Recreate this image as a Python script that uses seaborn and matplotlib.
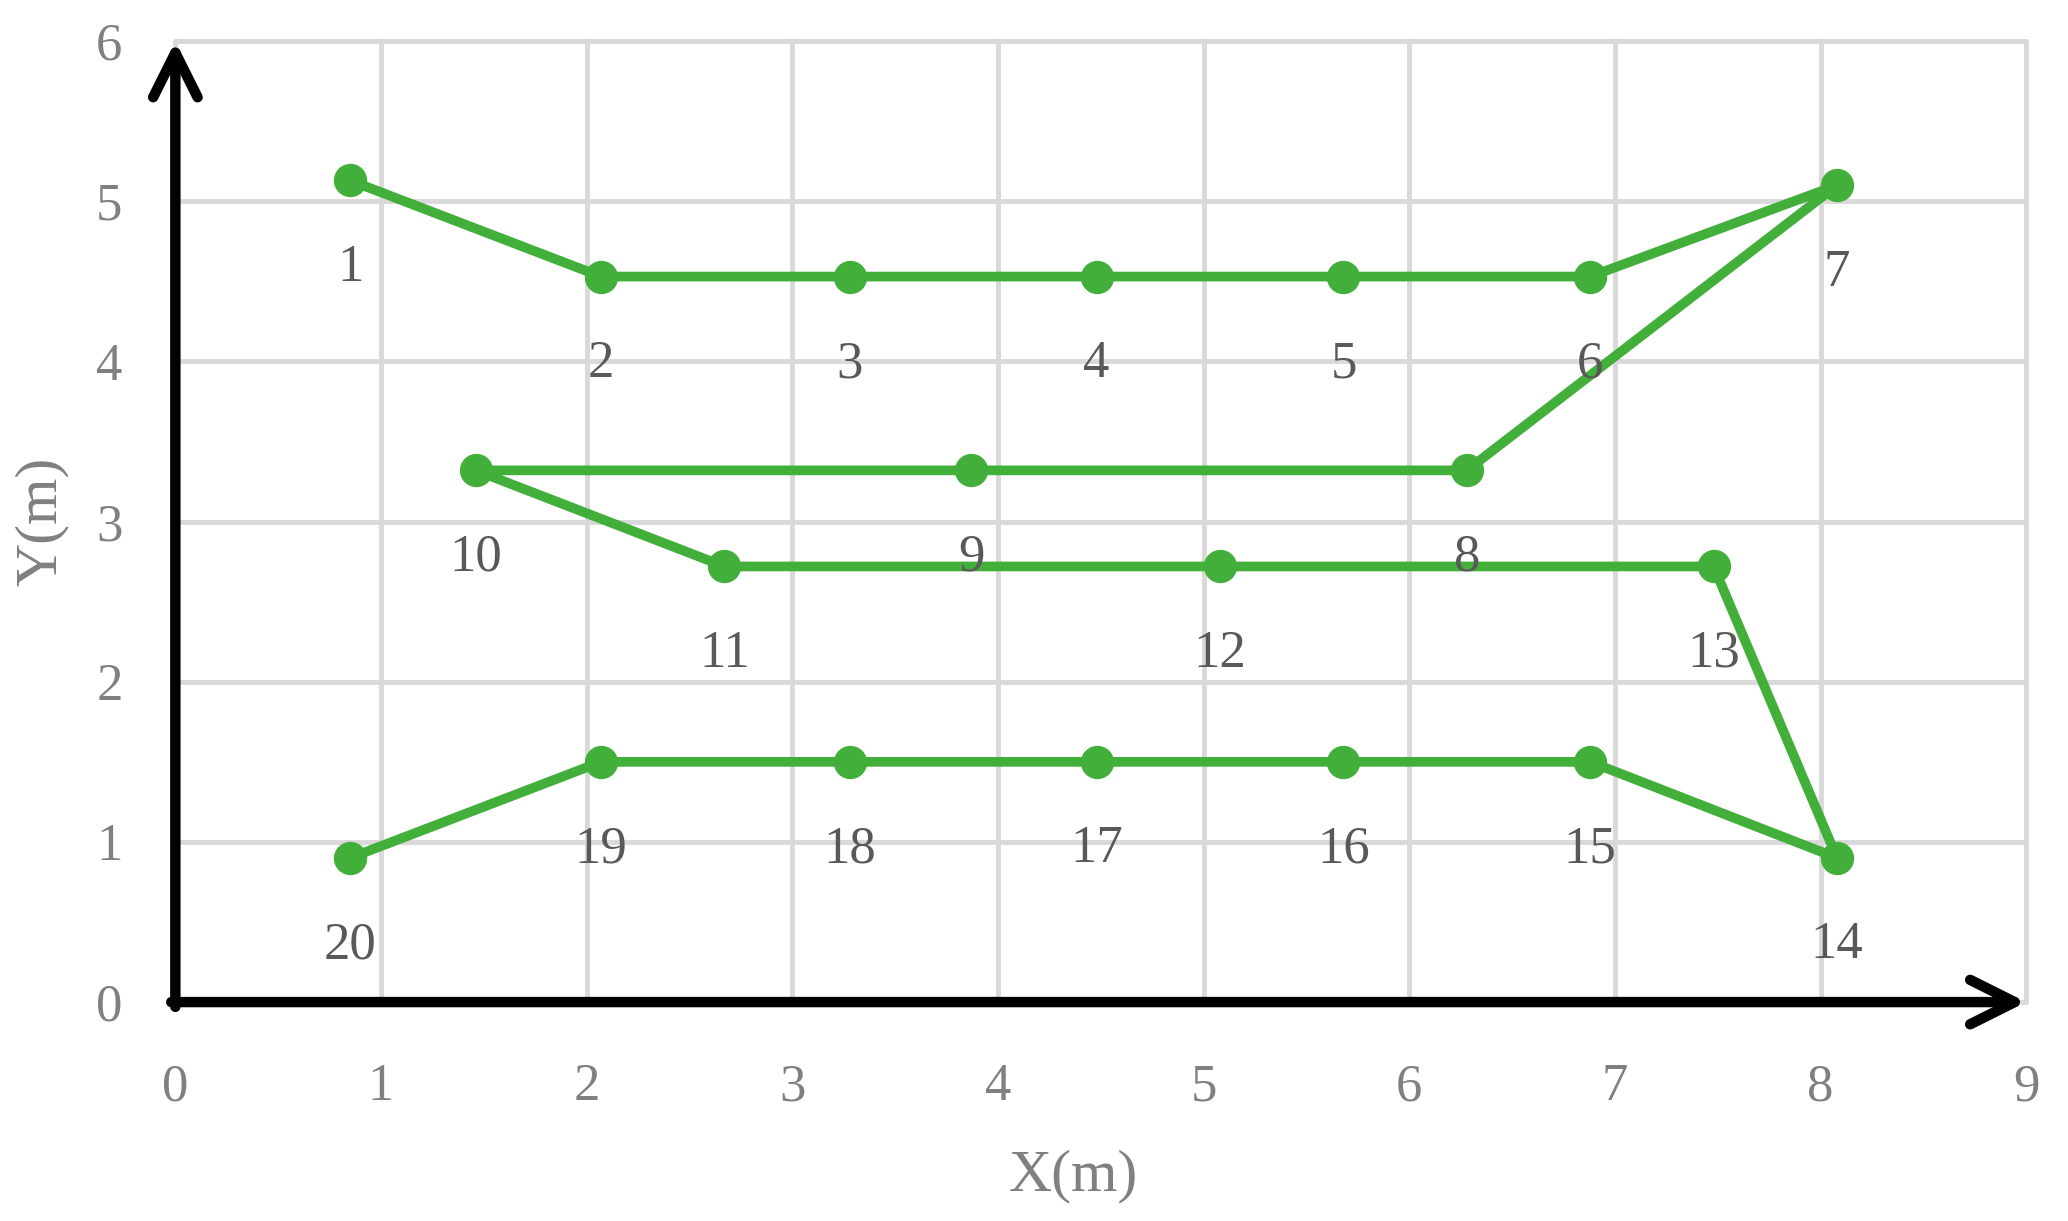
import pandas as pd
import matplotlib.pyplot as plt
import seaborn as sns

# waypoint coordinates (m), in path order
point_ids = list(range(1, 21))
x_m = [0.85, 2.07, 3.28, 4.48, 5.68, 6.88, 8.08,
       6.28, 3.87, 1.46,
       2.67, 5.08, 7.48,
       8.08, 6.88, 5.68, 4.48, 3.28, 2.07, 0.85]
y_m = [5.13, 4.53, 4.53, 4.53, 4.53, 4.53, 5.10,
       3.32, 3.32, 3.32,
       2.72, 2.72, 2.72,
       0.90, 1.50, 1.50, 1.50, 1.50, 1.50, 0.90]
x_ticks = list(range(0, 10))
y_ticks = list(range(0, 7))

df = pd.DataFrame({"id": point_ids, "x": x_m, "y": y_m})

sns.set_style("white")
plt.rcParams['font.family'] = ['Liberation Serif', 'DejaVu Serif']

green = "#43AF3B"
tick_grey = "#808080"
label_grey = "#595959"

fig = plt.figure(figsize=(20.68, 12.21), dpi=100)
ax = fig.add_axes([0.0848, 0.1793, 0.895, 0.787])

sns.lineplot(data=df, x="x", y="y", sort=False, estimator=None, ax=ax,
             color=green, lw=7, marker="o", markersize=24, markeredgewidth=0,
             zorder=3)

ax.set_xlim(0, 9)
ax.set_ylim(0, 6)
ax.set_xticks(x_ticks)
ax.set_yticks(y_ticks)
ax.grid(True, color="#d9d9d9", lw=3.5)
for gl in ax.get_xgridlines() + ax.get_ygridlines():
    gl.set_clip_on(False)
ax.set_axisbelow(True)
for s in ax.spines.values():
    s.set_visible(False)

ax.tick_params(axis="x", length=0, pad=44, labelsize=38, labelcolor=tick_grey)
ax.tick_params(axis="y", length=0, pad=38, labelsize=38, labelcolor=tick_grey)

# axis arrows
arrow_kw = dict(arrowstyle="->,head_length=0.4,head_width=0.2", lw=7.5,
                color="black", mutation_scale=80, shrinkA=0, shrinkB=0,
                capstyle="round")
ax.annotate("", xy=(0, 6), xytext=(0, -0.03), arrowprops=arrow_kw,
            annotation_clip=False, zorder=5)
ax.annotate("", xy=(9, 0), xytext=(-0.02, 0), arrowprops=arrow_kw,
            annotation_clip=False, zorder=5)

# point numbers
for pid, px, py in zip(df["id"], df["x"], df["y"]):
    ax.annotate(str(pid), xy=(px, py), xytext=(0, -63), textcoords="offset points",
                ha="center", va="center", fontsize=38, color=label_grey, zorder=4)

ax.set_xlabel("X(m)", fontsize=43, color=tick_grey)
ax.set_ylabel("Y(m)", fontsize=43, color=tick_grey)
ax.xaxis.set_label_coords(0.485, -0.181)
ax.xaxis.label.set_va("center")
ax.yaxis.set_label_coords(-0.072, 0.5)
ax.yaxis.label.set_va("center")

fig.savefig("out.png", dpi=100)
